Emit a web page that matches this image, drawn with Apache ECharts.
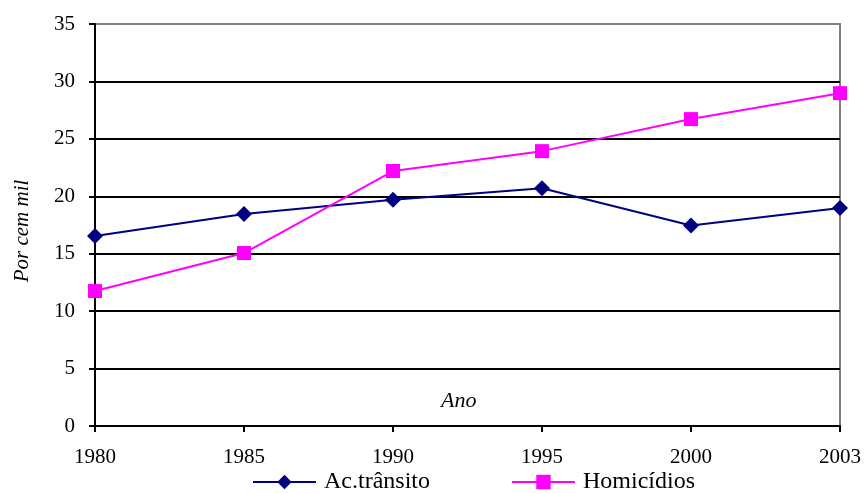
<!DOCTYPE html>
<html>
<head>
<meta charset="utf-8">
<script src="https://cdn.jsdelivr.net/npm/echarts@6/dist/echarts.min.js"></script>
<style>html,body{margin:0;padding:0;background:#fff}#c{width:865px;height:493px}</style>
</head>
<body>
<div id="c"></div>
<script>
var categories = ['1980', '1985', '1990', '1995', '2000', '2003'];
var acTransito = [16.55, 18.45, 19.7, 20.7, 17.45, 18.97];
var homicidios = [11.75, 15.06, 22.2, 23.93, 26.72, 28.98];
var seriesNames = ['Ac.trânsito', 'Homicídios'];
var xTitle = 'Ano';
var yTitle = 'Por cem mil';

var font = 'Liberation Serif, Times New Roman, serif';
var chart = echarts.init(document.getElementById('c'));
chart.setOption({
  animation: false,
  backgroundColor: '#fff',
  grid: { left: 95, right: 25, top: 24, bottom: 67, show: true, borderColor: '#808080', borderWidth: 2, backgroundColor: 'transparent' },
  legend: {
    top: 470, left: 252, padding: 0, itemWidth: 63, itemHeight: 18, itemGap: 81,
    textStyle: { fontFamily: font, fontSize: 24, color: '#000', width: 116, padding: [0, 0, 0, 3] },
    data: seriesNames
  },
  graphic: [
    { type: 'text', left: 441, top: 390, style: { text: xTitle, font: 'italic 22px ' + font, fill: '#000' } },
    { type: 'text', x: 22, y: 231, rotation: Math.PI / 2,
      style: { text: yTitle, font: 'italic 21px ' + font, fill: '#000', align: 'center', verticalAlign: 'middle' } }
  ],
  xAxis: {
    type: 'category', data: categories, boundaryGap: false,
    axisLine: { lineStyle: { color: '#000', width: 2 } },
    axisTick: { show: true, length: 6, lineStyle: { color: '#000', width: 2 } },
    axisLabel: { fontFamily: font, fontSize: 21, color: '#000', margin: 21 },
    splitLine: { show: false }
  },
  yAxis: {
    type: 'value', min: 0, max: 35, interval: 5,
    axisLine: { show: true, lineStyle: { color: '#000', width: 2 } },
    axisTick: { show: true, length: 6, lineStyle: { color: '#000', width: 2 } },
    axisLabel: { fontFamily: font, fontSize: 21, color: '#000', margin: 20 },
    splitLine: { show: true, lineStyle: { color: ['#000','#000','#000','#000','#000','#000','#000','#808080'], width: 2 } }
  },
  series: [
    { name: seriesNames[0], type: 'line', data: acTransito, symbol: 'diamond', symbolSize: 16,
      lineStyle: { color: '#000080', width: 2 }, itemStyle: { color: '#000080' } },
    { name: seriesNames[1], type: 'line', data: homicidios, symbol: 'rect', symbolSize: 14,
      lineStyle: { color: '#FF00FF', width: 2 }, itemStyle: { color: '#FF00FF' } }
  ]
});
</script>
</body>
</html>
